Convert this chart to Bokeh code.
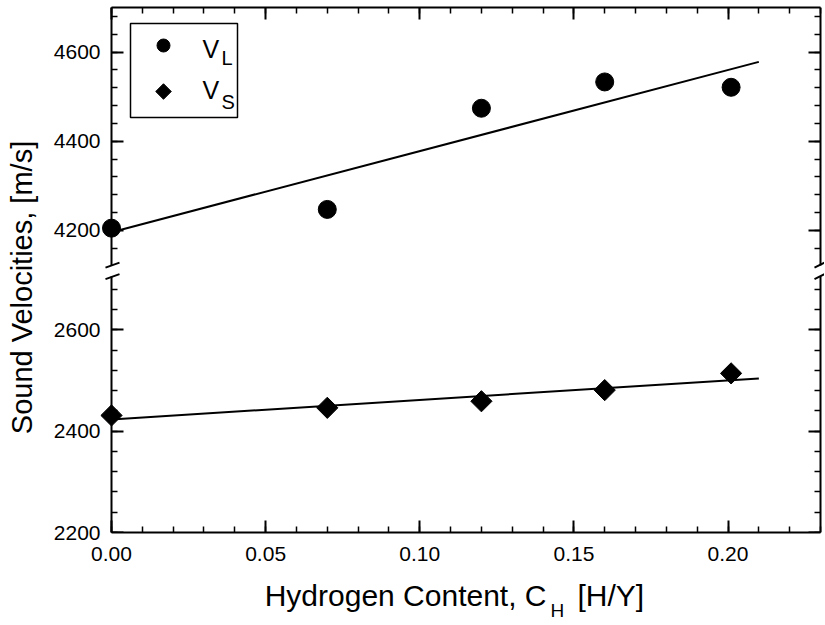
import math
from bokeh.plotting import figure
from bokeh.models import (LinearAxis, Range1d, SingleIntervalTicker, NumeralTickFormatter,
                          Label, BoxAnnotation)
from bokeh.layouts import row, column
from bokeh.embed import file_html
from bokeh.resources import INLINE

# ---------------- data ----------------
h_content = [0.0, 0.07, 0.12, 0.16, 0.201]          # C_H [H/Y]
v_long = [4205, 4247, 4474, 4533, 4521]              # V_L [m/s]
v_shear = [2431, 2446, 2459, 2481, 2514]             # V_S [m/s]
fit_x = [0.0, 0.21]
fit_long = [4196, 4578]
fit_shear = [2423, 2504]

x_tick_interval = 0.05
y_tick_interval = 200

# ---------------- layout constants (page pixels) ----------------
FONT = "Liberation Sans"
X_START, X_END = 0.0, 0.23
AX0_PX, AX1_PX = 111, 820          # where x=0 and x=0.23 sit
FRAME_L_PX, FRAME_R_PX = 100, 824
YLAB_W = 40
LB = FRAME_L_PX - YLAB_W
W = FRAME_R_PX - YLAB_W
PPX = (AX1_PX - AX0_PX) / (X_END - X_START)

UP_HI, UP_BREAK, UP_LO = 4700, 4122, 4110
UP_TOP_PX, UP_BOT_PX = 7, 270
PPY_UP = (UP_BOT_PX - UP_TOP_PX) / (UP_HI - UP_LO)

LO_HI, LO_BREAK, LO_LO = 2717, 2705, 2200
LO_TOP_PX, LO_BOT_PX = 270, 532
PPY_LO = (LO_BOT_PX - LO_TOP_PX) / (LO_HI - LO_LO)
LO_BORDER_BOT = 33
XLAB_H = 59
TOTAL_H = UP_BOT_PX + (LO_BOT_PX - LO_TOP_PX) + LO_BORDER_BOT + XLAB_H

x_range = Range1d(X_START - (AX0_PX - FRAME_L_PX) / PPX, X_END + (FRAME_R_PX - AX1_PX) / PPX)


def up_xy(px, py):
    return X_START + (px - AX0_PX) / PPX, UP_HI - (py - UP_TOP_PX) / PPY_UP


def tick_axis(ticker, fixed=None, bounds=None, labels=False, formatter=None, standoff=0,
              line=True):
    kw = dict(ticker=ticker, axis_line_width=2,
              axis_line_color="black" if line else None,
              major_tick_in=12 if line else 0, major_tick_out=0,
              minor_tick_in=6 if line else 0, minor_tick_out=0,
              major_tick_line_width=2, minor_tick_line_width=1.5,
              major_tick_line_color="black" if line else None,
              minor_tick_line_color="black" if line else None,
              major_label_standoff=standoff)
    if labels:
        kw.update(major_label_text_font=FONT, major_label_text_font_size="21px",
                  major_label_text_color="black")
    else:
        kw.update(major_label_text_font_size="0px", major_label_text_color=None)
    if fixed is not None:
        kw["fixed_location"] = fixed
    if bounds is not None:
        kw["bounds"] = bounds
    if formatter is not None:
        kw["formatter"] = formatter
    return LinearAxis(**kw)


def yticker():
    return SingleIntervalTicker(interval=y_tick_interval, num_minor_ticks=5)


def xticker():
    return SingleIntervalTicker(interval=x_tick_interval, num_minor_ticks=5)


def base_fig(height, y_range, top, bottom):
    p = figure(width=W, height=height, x_range=x_range, y_range=y_range,
               x_axis_location=None, y_axis_location=None, toolbar_location=None,
               output_backend="svg", outline_line_color=None,
               min_border_left=LB, min_border_right=0,
               min_border_top=top, min_border_bottom=bottom)
    p.grid.visible = False
    return p


# ---------------- upper panel (V_L) ----------------
top = base_fig(UP_BOT_PX, Range1d(UP_LO, UP_HI), UP_TOP_PX, 0)
top.add_layout(tick_axis(yticker(), labels=True, line=False), "left")
top.add_layout(tick_axis(yticker(), fixed=X_START, bounds=(UP_BREAK, UP_HI)), "left")
top.add_layout(tick_axis(yticker(), fixed=X_END, bounds=(UP_BREAK, UP_HI)), "right")
top.add_layout(tick_axis(xticker(), bounds=(X_START, X_END)), "above")

top.line(fit_x, fit_long, line_color="black", line_width=2)
top.scatter(h_content, v_long, marker="circle", size=18, color="black")

# legend (box, swatches, texts with subscripts)
bx0, by0 = up_xy(130, 23)
bx1, by1 = up_xy(237, 117)
top.add_layout(BoxAnnotation(left=bx0, right=bx1, top=by0, bottom=by1,
                             fill_color=None, fill_alpha=0,
                             line_color="black", line_alpha=1.0, line_width=1.5))
sx, sy1 = up_xy(163, 45)
_, sy2 = up_xy(163, 91)
top.scatter([sx], [sy1], marker="circle", size=13, color="black")
top.scatter([sx], [sy2], marker="square", angle=math.pi / 4, size=11, color="black")
for name, sub, vy, sy in (("V", "L", 62, 68), ("V", "S", 103, 112)):
    tx, ty = up_xy(202, vy)
    top.add_layout(Label(x=tx, y=ty, text=name, text_font=FONT, text_font_size="25px",
                         text_color="black"))
    ux, uy = up_xy(221, sy)
    top.add_layout(Label(x=ux, y=uy, text=sub, text_font=FONT, text_font_size="20px",
                         text_color="black"))

# ---------------- lower panel (V_S) ----------------
bottom = base_fig(LO_BOT_PX - LO_TOP_PX + LO_BORDER_BOT, Range1d(LO_LO, LO_HI), 0, LO_BORDER_BOT)
bottom.add_layout(tick_axis(yticker(), labels=True, line=False), "left")
bottom.add_layout(tick_axis(yticker(), fixed=X_START, bounds=(LO_LO, LO_BREAK)), "left")
bottom.add_layout(tick_axis(yticker(), fixed=X_END, bounds=(LO_LO, LO_BREAK)), "right")
bottom.add_layout(tick_axis(xticker(), bounds=(X_START, X_END), labels=True, standoff=14,
                            formatter=NumeralTickFormatter(format="0.00")), "below")

bottom.line(fit_x, fit_shear, line_color="black", line_width=2)
bottom.scatter(h_content, v_shear, marker="square", angle=math.pi / 4, size=15, color="black")

# ---------------- axis-break marks ----------------
for xc, lpx, rpx in ((X_START, 6, 8), (X_END, 6, 4)):
    top.segment(x0=[xc - lpx / PPX], y0=[UP_BREAK - 2.5 / PPY_UP],
                x1=[xc + rpx / PPX], y1=[UP_BREAK + 2.5 / PPY_UP],
                line_color="black", line_width=2)
    bottom.segment(x0=[xc - lpx / PPX], y0=[LO_BREAK - 2.5 / PPY_LO],
                   x1=[xc + rpx / PPX], y1=[LO_BREAK + 2.5 / PPY_LO],
                   line_color="black", line_width=2)

# ---------------- x-axis title (with subscript), own strip sharing the x range ----------------
xlab = figure(width=W, height=XLAB_H, x_range=x_range, y_range=Range1d(0, XLAB_H),
              x_axis_location=None, y_axis_location=None, toolbar_location=None,
              output_backend="svg", outline_line_color=None,
              min_border_left=LB, min_border_right=0, min_border_top=0, min_border_bottom=0)
xlab.grid.visible = False
for text, px, py, size, align in (("Hydrogen Content, C", 546, 611, "30px", "right"),
                                  ("H", 550, 620, "19px", "left"),
                                  ("[H/Y]", 577, 611, "30px", "left")):
    xlab.add_layout(Label(x=X_START + (px - AX0_PX) / PPX, y=TOTAL_H - py, text=text,
                          text_align=align, text_font=FONT, text_font_size=size,
                          text_color="black"))

# ---------------- y-axis title (spans both panels) ----------------
ylab = figure(width=YLAB_W, height=TOTAL_H, x_range=Range1d(0, 1), y_range=Range1d(0, 1),
              x_axis_location=None, y_axis_location=None, toolbar_location=None,
              output_backend="svg", outline_line_color=None, min_border=0)
ylab.grid.visible = False
ylab.add_layout(Label(x=21.5, y=TOTAL_H - 287, x_units="screen", y_units="screen",
                      angle=math.pi / 2, text="Sound Velocities, [m/s]",
                      text_align="center", text_baseline="middle",
                      text_font=FONT, text_font_size="29px", text_color="black"))

layout = row(ylab, column(top, bottom, xlab))
open("out.html", "w").write(file_html(layout, INLINE))
